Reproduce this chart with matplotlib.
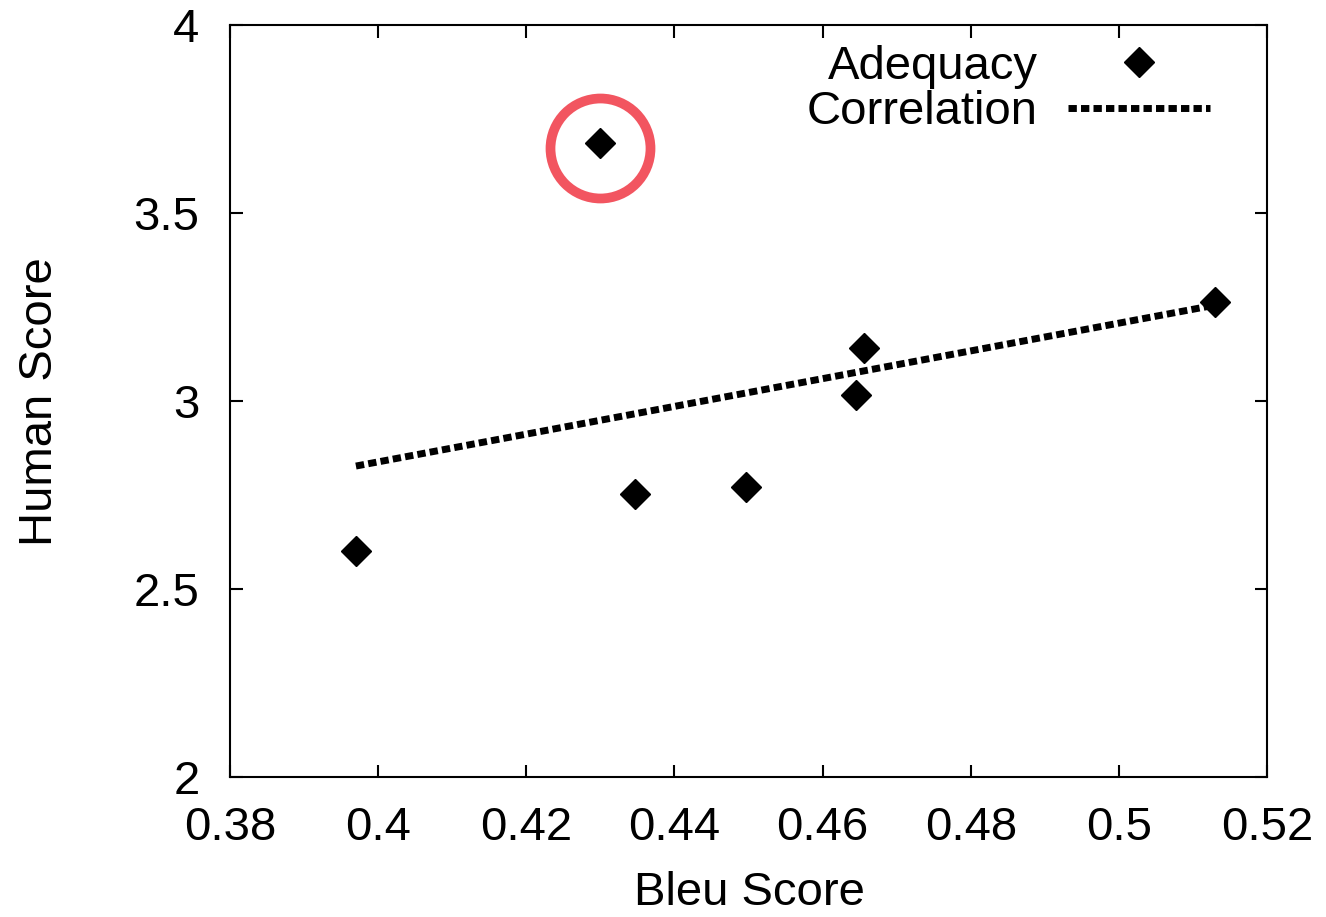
import matplotlib
matplotlib.use("Agg")
import matplotlib.pyplot as plt
from matplotlib.lines import Line2D

plt.rcParams['font.family'] = ['Liberation Sans', 'DejaVu Sans']

bleu = [0.397, 0.430, 0.4347, 0.4497, 0.4645, 0.4656, 0.513]
human = [2.60, 3.685, 2.753, 2.770, 3.017, 3.142, 3.262]
corr_x = [0.397, 0.513]
corr_y = [2.827, 3.255]
outlier_x = [0.430]
outlier_y = [3.673]
xticks = [0.38, 0.40, 0.42, 0.44, 0.46, 0.48, 0.50, 0.52]
xticklabels = ['0.38', '0.4', '0.42', '0.44', '0.46', '0.48', '0.5', '0.52']
yticks = [2.0, 2.5, 3.0, 3.5, 4.0]
yticklabels = ['2', '2.5', '3', '3.5', '4']

FS = 34
fig = plt.figure(figsize=(13.26, 9.17), dpi=100)
ax = fig.add_axes([230/1326, 1-777/917, (1267-230)/1326, (777-25)/917])

ax.plot(corr_x, corr_y, color='black', lw=5, linestyle=(0, (1.2, 0.6)), dash_capstyle='butt', zorder=2)
ax.plot(bleu, human, linestyle='none', marker='D', markersize=15.5, color='black', zorder=3)
ax.plot(outlier_x, outlier_y, linestyle='none', marker='o', markersize=72, markerfacecolor='none',
        markeredgecolor='#f25560', markeredgewidth=7, zorder=4)

ax.set_xlim(0.38, 0.52)
ax.set_ylim(2, 4)
ax.set_xticks(xticks)
ax.set_xticklabels(xticklabels)
ax.set_yticks(yticks)
ax.set_yticklabels(yticklabels)
ax.tick_params(direction='in', length=9, width=1.5, top=True, right=True, labelsize=FS)
ax.tick_params(axis='x', pad=21)
ax.tick_params(axis='y', pad=22)
for s in ax.spines.values():
    s.set_linewidth(1.5)
ax.set_xlabel('Bleu Score', fontsize=FS)
ax.set_ylabel('Human Score', fontsize=FS)
ax.xaxis.set_label_coords((749-230)/1037, -(893-777)/752, transform=ax.transAxes)
ax.yaxis.set_label_coords(-(230-40)/1037, (777-402)/752, transform=ax.transAxes)
ax.xaxis.label.set_va('center')
ax.yaxis.label.set_va('center')

handles = [Line2D([], [], linestyle='none', marker='D', markersize=15.5, color='black'),
           Line2D([], [], color='black', lw=5, linestyle=(0, (1.2, 0.6)), dash_capstyle='butt')]
leg = ax.legend(handles, ['Adequacy', 'Correlation'], loc='upper right',
                bbox_to_anchor=((1210-230)/1037, 1 - 20/752),
                frameon=False, markerfirst=False, fontsize=FS, handlelength=3.0, handletextpad=0.64,
                labelspacing=0.03, borderaxespad=0, borderpad=0)
for t in leg.get_texts():
    t.set_ha('right')

fig.savefig('out.png', dpi=100)
